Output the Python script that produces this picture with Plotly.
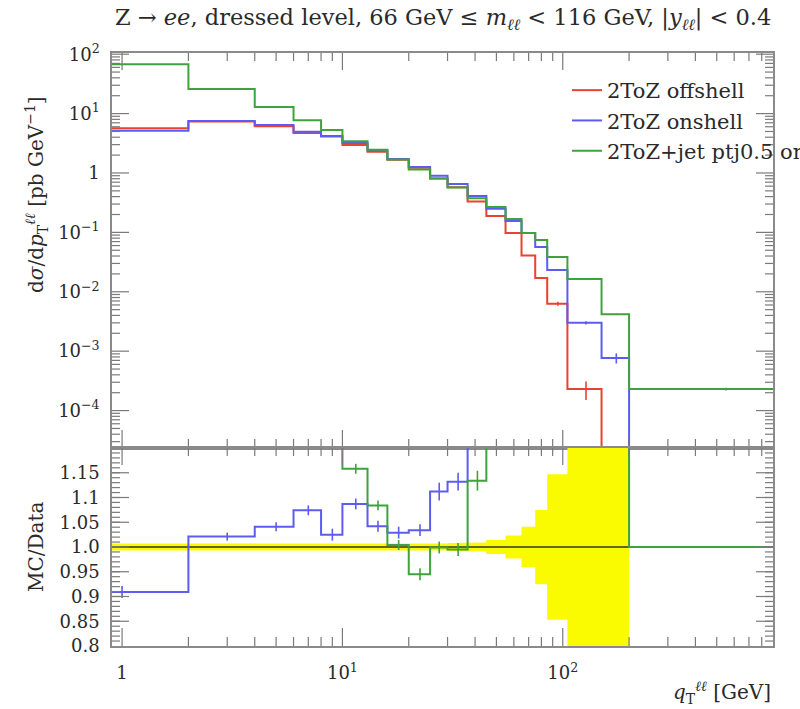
import math
import plotly.graph_objects as go

# ---------------- data ----------------
edges = [0, 2, 4, 6, 8, 10, 13, 16, 20, 25, 30, 37, 45, 55, 65, 75, 85, 105, 150, 200, 900]

offshell = [5.65, 7.35, 6.15, 4.7, 4.1, 2.95, 2.28, 1.67, 1.22, 0.81, 0.575, 0.33, 0.189,
            0.098, 0.041, 0.017, 0.0063, 2.3e-4, 0, 0]
onshell = [5.15, 7.5, 6.4, 4.96, 4.2, 3.2, 2.38, 1.72, 1.26, 0.9, 0.65, 0.41, 0.25,
           0.155, 0.098, 0.057, 0.0233, 0.003, 7.7e-4, 0]
jet = [68, 26, 12.9, 7.7, 5.3, 3.42, 2.47, 1.68, 1.15, 0.81, 0.572, 0.374, 0.268,
       0.168, 0.098, 0.0745, 0.0385, 0.0164, 0.0042, 2.3e-4]

offshell_err = [0.02, 0.02, 0.02, 0.015, 0.012, 0.01, 0.008, 0.006, 0.005, 0.004, 0.003, 0.002,
                0.0015, 0.001, 0.0006, 0.0004, 0.0005, 8e-5, 0, 0]
onshell_err = [0.02, 0.02, 0.02, 0.015, 0.012, 0.01, 0.008, 0.006, 0.005, 0.004, 0.003, 0.002,
               0.0015, 0.001, 0.0006, 0.0005, 0.0006, 2e-4, 1.5e-4, 0]
jet_err = [0.2, 0.08, 0.05, 0.03, 0.02, 0.012, 0.01, 0.007, 0.005, 0.004, 0.003, 0.002,
           0.0015, 0.001, 0.0006, 0.0004, 0.0003, 1.5e-4, 1e-4, 1.2e-5]

ratio_onshell = [0.909, 1.021, 1.041, 1.074, 1.025, 1.087, 1.042, 1.029, 1.034, 1.112, 1.132,
                 1.24, 1.32, 1.58, 2.4, 3.35, 3.7, 13.0]
ratio_onshell_err = [0.012, 0.008, 0.009, 0.01, 0.012, 0.011, 0.011, 0.012, 0.012, 0.018, 0.018,
                     0.02, 0.03, 0.04, 0.06, 0.1, 0.2, 2.0]
ratio_jet = [12.0, 3.5, 2.0, 1.64, 1.29, 1.158, 1.084, 1.004, 0.945, 0.999, 0.995, 1.134,
             1.42, 1.71, 2.39, 4.4, 6.1, 71.0, 40.0, 1.0]
ratio_jet_err = [0.1, 0.05, 0.03, 0.02, 0.015, 0.01, 0.01, 0.01, 0.012, 0.012, 0.013, 0.02,
                 0.03, 0.04, 0.06, 0.1, 0.2, 5.0, 5.0, 0.0]
ref_band = [0.007, 0.006, 0.006, 0.006, 0.006, 0.006, 0.006, 0.006, 0.007, 0.007, 0.008, 0.009,
            0.014, 0.023, 0.041, 0.075, 0.147, 0.6, 0.6]

x_major = [1, 10, 100]
x_major_text = ["1", "10<sup>1</sup>", "10<sup>2</sup>"]
y_major = [1e-4, 1e-3, 1e-2, 1e-1, 1, 10, 100]
y_major_text = ["10<sup>−4</sup>", "10<sup>−3</sup>", "10<sup>−2</sup>", "10<sup>−1</sup>", "1",
                "10<sup>1</sup>", "10<sup>2</sup>"]
r_major = [0.8, 0.85, 0.9, 0.95, 1.0, 1.05, 1.1, 1.15]
r_major_text = ["0.8", "0.85", "0.9", "0.95", "1.0", "1.05", "1.1", "1.15"]

title_text = ("Z → <i>ee</i>, dressed level, 66 GeV ≤ <i>m</i><sub><i>ℓℓ</i></sub> &lt; 116 GeV, "
              "|<i>y</i><sub><i>ℓℓ</i></sub>| &lt; 0.4")
labels = ["2ToZ offshell", "2ToZ onshell", "2ToZ+jet ptj0.5 onshell"]

# ---------------- style ----------------
X_MIN, X_MAX = 0.9, 900
RED, BLUE, GREEN = "#e8432e", "#5c5cf2", "#3fa23f"
YELLOW = "#fafa00"
FRAME = "#8a8a8a"
TICKC = "#7a7a7a"
FONT = "DejaVu Serif"
TXT = "#2a2a2a"
W, H = 800, 709
L, R = 112, 773
T1, B1, B2 = 53, 448, 646
TINY = 1e-12


def px_x(p):
    return p / W


def px_y(p):
    return 1 - p / H


def steps(vals, floor=None):
    xs, ys = [], []
    for i, v in enumerate(vals):
        lo = max(edges[i], X_MIN)
        hi = edges[i + 1]
        if floor is not None and v <= 0:
            v = floor
        xs += [lo, hi]
        ys += [v, v]
    return xs, ys


def centers(n):
    return [(edges[i] + edges[i + 1]) / 2 for i in range(n)]


fig = go.Figure()

# ---------- ratio band ----------
bx, bup = steps([1 + b for b in ref_band])
_, blo = steps([1 - b for b in ref_band])
fig.add_trace(go.Scatter(x=bx + bx[::-1], y=bup + blo[::-1], fill="toself", fillcolor=YELLOW,
                         line=dict(width=0), mode="lines", xaxis="x2", yaxis="y2",
                         showlegend=False, hoverinfo="skip"))
fig.add_trace(go.Scatter(x=[X_MIN, X_MAX], y=[1, 1], mode="lines", line=dict(color="#333333", width=1.3),
                         xaxis="x2", yaxis="y2", showlegend=False, hoverinfo="skip"))

# ---------- main panel ----------
series = [(offshell, offshell_err, RED), (onshell, onshell_err, BLUE), (jet, jet_err, GREEN)]
for k, (vals, errs, col) in enumerate(series):
    sx, sy = steps(vals, floor=TINY)
    fig.add_trace(go.Scatter(x=sx, y=sy, mode="lines", line=dict(color=col, width=2),
                             name=labels[k], legendgroup=str(k), xaxis="x", yaxis="y"))
    cx = centers(len(vals))
    ex = [c for c, v in zip(cx, vals) if v > 0]
    ey = [v for v in vals if v > 0]
    ee = [e for e, v in zip(errs, vals) if v > 0]
    fig.add_trace(go.Scatter(x=ex, y=ey, mode="markers", marker=dict(size=1, color=col),
                             error_y=dict(type="data", array=ee, color=col, thickness=1.6, width=0),
                             showlegend=False, xaxis="x", yaxis="y", hoverinfo="skip"))

# ---------- ratio panel ----------
for vals, errs, col in [(ratio_onshell, ratio_onshell_err, BLUE), (ratio_jet, ratio_jet_err, GREEN)]:
    sx, sy = steps(vals)
    fig.add_trace(go.Scatter(x=sx, y=sy, mode="lines", line=dict(color=col, width=2),
                             showlegend=False, xaxis="x2", yaxis="y2", hoverinfo="skip"))
    fig.add_trace(go.Scatter(x=centers(len(vals)), y=vals, mode="markers",
                             marker=dict(size=1, color=col),
                             error_y=dict(type="data", array=errs, color=col, thickness=1.6, width=0),
                             showlegend=False, xaxis="x2", yaxis="y2", hoverinfo="skip"))

# ---------- axes ----------
x_minor = [m * 10 ** d for d in range(0, 3) for m in range(2, 10) if m * 10 ** d < X_MAX]
y_minor = [m * 10 ** d for d in range(-5, 2) for m in range(2, 10)]
r_minor = [round(0.81 + 0.01 * i, 2) for i in range(39)]

xr = [math.log10(X_MIN), math.log10(X_MAX)]
yr1 = [-4.63, 2.02]
yr2 = [0.8, 1.2]
xdom = [px_x(L), px_x(R)]
ydom1 = [px_y(B1), px_y(T1)]
ydom2 = [px_y(B2), px_y(B1)]

# axis units per screen pixel, from the domains and ranges above
x_per_px = (xr[1] - xr[0]) / (R - L)
y1_per_px = (yr1[1] - yr1[0]) / (B1 - T1)
y2_per_px = (yr2[1] - yr2[0]) / (B2 - B1)


def tick_trace(xa, ya, ylog, yrange, yper, xticks, yticks):
    """Inward tick marks on all four sides of one panel, as a single line trace."""
    xs, ys = [], []
    ylo, yhi = yrange

    def yv(u):
        return 10 ** u if ylog else u

    for vals, ln in xticks:
        for v in vals:
            if not (X_MIN < v < X_MAX):
                continue
            xs += [v, v, None, v, v, None]
            ys += [yv(ylo), yv(ylo + ln * yper), None, yv(yhi), yv(yhi - (ln - 1) * yper), None]
    for vals, ln in yticks:
        for v in vals:
            u = math.log10(v) if ylog else v
            if not (ylo < u < yhi):
                continue
            xs += [X_MIN, 10 ** (xr[0] + ln * x_per_px), None, X_MAX, 10 ** (xr[1] - ln * x_per_px), None]
            ys += [v, v, None, v, v, None]
    return go.Scatter(x=xs, y=ys, mode="lines", line=dict(color=TICKC, width=1.2), xaxis=xa, yaxis=ya,
                      showlegend=False, hoverinfo="skip", connectgaps=False)


fig.add_trace(tick_trace("x", "y", True, yr1, y1_per_px,
                         [(x_major, 18), (x_minor, 9)], [(y_major, 17), (y_minor, 8)]))
fig.add_trace(tick_trace("x2", "y2", False, yr2, y2_per_px,
                         [(x_major, 18), (x_minor, 9)], [(r_major, 17), (r_minor, 8)]))

tickfont = dict(family=FONT, size=18, color=TXT)
label_style = dict(showline=True, linecolor=FRAME, linewidth=1.5, mirror=True, ticks="",
                   showgrid=False, zeroline=False, tickfont=tickfont)

fig.update_layout(
    width=W, height=H, margin=dict(l=0, r=0, t=0, b=0, autoexpand=False),
    paper_bgcolor="white", plot_bgcolor="white",
    xaxis=dict(domain=xdom, anchor="y", type="log", range=xr, showticklabels=False, **label_style),
    yaxis=dict(domain=ydom1, anchor="x", type="log", range=yr1, tickvals=y_major,
               ticktext=y_major_text, ticklabelstandoff=7, **label_style),
    xaxis2=dict(domain=xdom, anchor="y2", type="log", range=xr, tickvals=x_major,
                ticktext=x_major_text, ticklabelstandoff=10, **label_style),
    yaxis2=dict(domain=ydom2, anchor="x2", range=yr2, tickvals=r_major,
                ticktext=r_major_text, ticklabelstandoff=7, **label_style),
    legend=dict(x=px_x(567), y=px_y(70), xanchor="left", yanchor="top", bgcolor="rgba(0,0,0,0)",
                font=dict(family=FONT, size=21, color=TXT), tracegroupgap=0, traceorder="grouped"),
    showlegend=True,
)

fig.add_annotation(text=title_text, x=px_x(113), y=px_y(19), xref="paper", yref="paper",
                   xanchor="left", yanchor="middle", showarrow=False,
                   font=dict(family=FONT, size=22.5, color=TXT))
fig.add_annotation(text="d<i>σ</i>/d<i>p</i><sub>T</sub><sup><i>ℓℓ</i></sup> [pb GeV<sup>−1</sup>]",
                   x=px_x(36), y=px_y(195), xref="paper", yref="paper", textangle=-90,
                   xanchor="center", yanchor="middle", showarrow=False,
                   font=dict(family=FONT, size=20, color=TXT))
fig.add_annotation(text="MC/Data", x=px_x(36), y=px_y(547), xref="paper", yref="paper", textangle=-90,
                   xanchor="center", yanchor="middle", showarrow=False,
                   font=dict(family=FONT, size=20, color=TXT))
fig.add_annotation(text="<i>q</i><sub>T</sub><sup><i>ℓℓ</i></sup> [GeV]", x=px_x(773), y=px_y(692),
                   xref="paper", yref="paper", xanchor="right", yanchor="middle", showarrow=False,
                   font=dict(family=FONT, size=20, color=TXT))

fig.write_html("out.html")
